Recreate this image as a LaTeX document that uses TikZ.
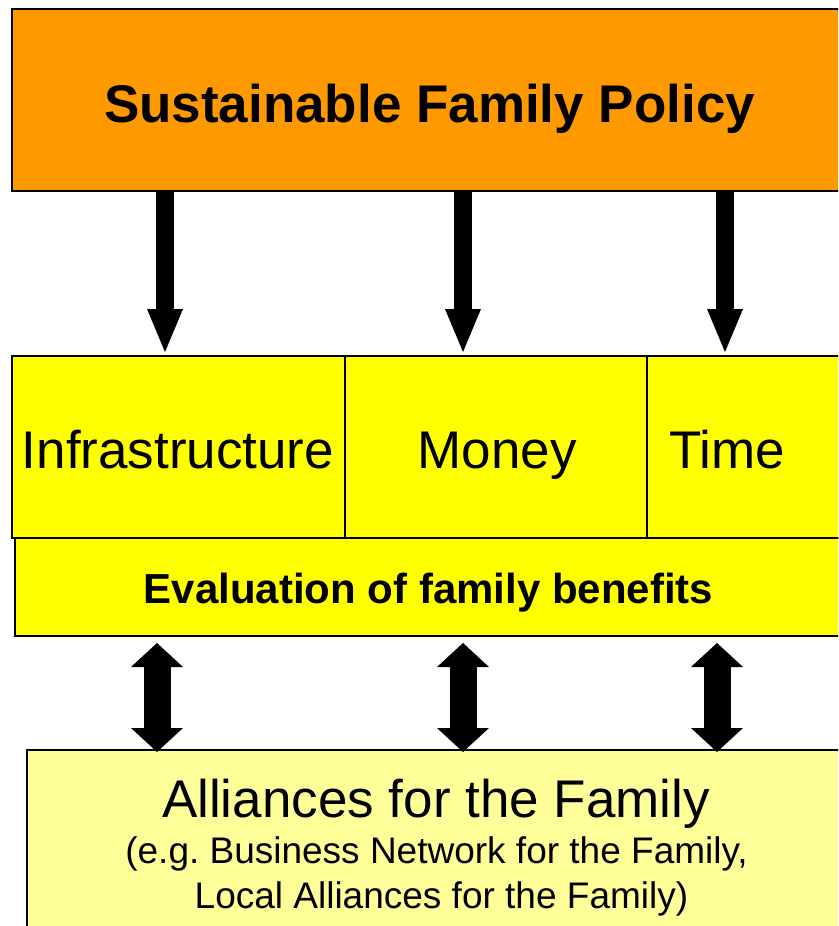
\documentclass[tikz,border=0pt]{standalone}
\usepackage{fontspec}
\setmainfont{Liberation Sans}
\usetikzlibrary{arrows.meta}
\definecolor{orangeF}{HTML}{FF9900}
\definecolor{yellowF}{HTML}{FFFF00}
\definecolor{paleF}{HTML}{FFFF99}
\frenchspacing
\begin{document}
\begin{tikzpicture}[x=1pt,y=-1pt,
  box/.style={draw=black, line width=1.5pt, inner sep=0pt, outer sep=0pt, rectangle},
  txt/.style={anchor=base, inner sep=0pt, text=black},
  downarr/.style={line width=18pt, -{Triangle[width=36pt,length=43pt,line width=0pt]}},
  dblarr/.style={line width=27pt, {Triangle[width=52pt,length=24pt,line width=0pt]}-{Triangle[width=52pt,length=24pt,line width=0pt]}}]
\useasboundingbox (0,0) rectangle (838,926);
\clip (0,0) rectangle (838,926);
% boxes
\node[box, fill=orangeF, minimum width=835pt, minimum height=182pt] (policy) at (429.5,100) {};
\node[box, fill=yellowF, minimum width=333pt, minimum height=182pt] (infra) at (178.5,447) {};
\node[box, fill=yellowF, minimum width=302pt, minimum height=182pt] (money) at (496,447) {};
\node[box, fill=yellowF, minimum width=200pt, minimum height=182pt] (time) at (747,447) {};
\node[box, fill=yellowF, minimum width=827pt, minimum height=98pt] (eval) at (428.5,587) {};
\node[box, fill=paleF, minimum width=818pt, minimum height=190pt] (alliance) at (436,845) {};
% texts
\node[txt, font=\fontsize{53}{60}\selectfont\bfseries] (tpolicy) at (429.5,122) {Sustainable Family Policy};
\node[txt, font=\fontsize{53}{60}\selectfont] (tinfra) at (178,468) {Infrastructure};
\node[txt, font=\fontsize{53}{60}\selectfont] (tmoney) at (497,468) {Money};
\node[txt, font=\fontsize{53}{60}\selectfont] (ttime) at (727,468) {Time};
\node[txt, font=\fontsize{42}{48}\selectfont\bfseries] (teval) at (428.5,603) {Evaluation of family benefits};
\node[txt, font=\fontsize{53}{60}\selectfont] (tall1) at (436,817) {Alliances for the Family};
\node[txt, font=\fontsize{37}{44}\selectfont] (tall2) at (436.5,863) {(e.g. Business Network for the Family,};
\node[txt, font=\fontsize{37}{44}\selectfont] (tall3) at (441.5,908) {Local Alliances for the Family)};
% down arrows
\draw[downarr, shorten >=4pt] (policy.south -| 165,0) -- (infra.north -| 165,0);
\draw[downarr, shorten >=4pt] (policy.south -| 463,0) -- (money.north -| 463,0);
\draw[downarr, shorten >=4pt] (policy.south -| 725,0) -- (time.north -| 725,0);
% double arrows
\draw[dblarr, shorten <=7pt, shorten >=-2pt] (eval.south -| 157,0) -- (alliance.north -| 157,0);
\draw[dblarr, shorten <=7pt, shorten >=-2pt] (eval.south -| 463,0) -- (alliance.north -| 463,0);
\draw[dblarr, shorten <=7pt, shorten >=-2pt] (eval.south -| 717,0) -- (alliance.north -| 717,0);
\end{tikzpicture}
\end{document}
